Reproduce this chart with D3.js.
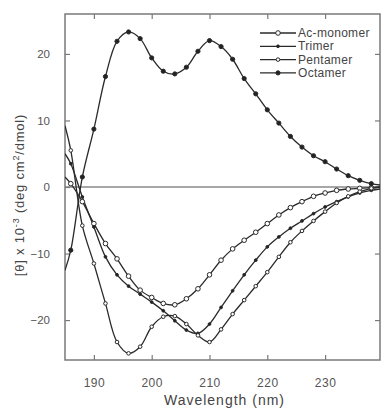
<!DOCTYPE html>
<html><head><meta charset="utf-8">
<script src="https://cdn.jsdelivr.net/npm/d3@7"></script>
<style>body{margin:0;background:#fff}text{font-family:"Liberation Sans",Arial,sans-serif}</style>
</head><body><svg id="c" width="382" height="410"></svg>
<script>
const wavelengths=[185,186,188,190,192,194,196,198,200,202,204,206,208,210,212,214,216,218,220,222,224,226,228,230,232,234,236,238,239.5];
const acMonomer=[1.5,0.5,-2.2,-5.5,-8.5,-10.8,-13.4,-15.5,-16.6,-17.5,-17.7,-16.8,-15.3,-13.2,-11.0,-9.3,-8.0,-6.8,-5.5,-4.2,-3.1,-2.2,-1.4,-0.9,-0.5,-0.3,-0.2,-0.1,0];
const trimer=[5.0,3.5,-1.5,-6.0,-10.5,-13.2,-14.9,-16.1,-17.3,-18.6,-20.1,-21.5,-22.0,-20.6,-18.1,-15.6,-13.2,-11.0,-9.0,-7.5,-6.2,-5.1,-4.0,-3.0,-2.2,-1.5,-0.9,-0.5,-0.3];
const pentamer=[9.2,5.5,-5.8,-11.5,-17.5,-23.3,-25.0,-24.0,-21.0,-19.5,-19.4,-20.6,-22.3,-23.3,-21.4,-19.1,-17.0,-14.9,-12.8,-10.5,-8.3,-6.6,-5.1,-3.7,-2.4,-1.4,-0.7,-0.2,0];
const octamer=[-12.5,-9.5,1.5,8.7,16.6,21.9,23.3,22.3,19.4,17.4,17.0,18.0,20.4,22.0,21.1,19.2,16.3,14.0,11.6,9.6,7.6,6.0,4.7,3.8,2.7,1.7,1.0,0.5,0.3];
const seriesNames=["Ac-monomer","Trimer","Pentamer","Octamer"];
const xTicks=[190,200,210,220,230];
const yTicks=[-20,-10,0,10,20];

const series=[
  {name:seriesNames[0],values:acMonomer,fill:"#fff",r:2.3},
  {name:seriesNames[1],values:trimer,fill:"#222",r:1.4},
  {name:seriesNames[2],values:pentamer,fill:"#fff",r:1.8},
  {name:seriesNames[3],values:octamer,fill:"#222",r:2.1}
];

const svg=d3.select("#c");
const L=65,R=380,T=14,B=360;
const x=d3.scaleLinear().domain([185,239.5]).range([L,R]);
const y=d3.scaleLinear().domain([-26,26]).range([B,T]);
const frame="#7a7a7a", ink="#2a2a2a", txt="#555";

svg.append("defs").append("clipPath").attr("id","clip").append("rect")
  .attr("x",L).attr("y",T).attr("width",R-L).attr("height",B-T);

// zero line
svg.append("line").attr("x1",L).attr("x2",R).attr("y1",y(0)).attr("y2",y(0))
  .attr("stroke","#8a8a8a").attr("stroke-width",1.5);

// axes with inward ticks
const ax=(g)=>{g.selectAll(".domain").remove();g.selectAll("line").attr("stroke",frame).attr("stroke-width",1.2);};
svg.append("g").attr("transform",`translate(0,${B})`)
  .call(d3.axisBottom(x).tickValues(xTicks).tickSizeInner(-5).tickSizeOuter(0).tickPadding(18))
  .call(ax).selectAll("text").attr("fill",txt).attr("font-size",12).attr("letter-spacing",0.5);
svg.append("g").attr("transform",`translate(0,${T})`)
  .call(d3.axisTop(x).tickValues(xTicks).tickSizeInner(-5).tickSizeOuter(0).tickFormat(""))
  .call(ax);
svg.append("g").attr("transform",`translate(${L},0)`)
  .call(d3.axisLeft(y).tickValues(yTicks).tickSizeInner(-5).tickSizeOuter(0).tickPadding(15))
  .call(ax).selectAll("text").attr("fill",txt).attr("font-size",11.5);
svg.append("g").attr("transform",`translate(${R},0)`)
  .call(d3.axisRight(y).tickValues(yTicks).tickSizeInner(-5).tickSizeOuter(0).tickFormat(""))
  .call(ax);

svg.append("rect").attr("x",L).attr("y",T).attr("width",R-L).attr("height",B-T)
  .attr("fill","none").attr("stroke",frame).attr("stroke-width",1.5);

const line=d3.line().x((d,i)=>x(wavelengths[i])).y(d=>y(d)).curve(d3.curveCatmullRom.alpha(0.5));
const plot=svg.append("g").attr("clip-path","url(#clip)");
series.forEach(s=>{
  plot.append("path").attr("d",line(s.values)).attr("fill","none")
    .attr("stroke",ink).attr("stroke-width",1.3);
});
series.forEach(s=>{
  plot.selectAll(null).data(s.values.map((v,i)=>({w:wavelengths[i],v})).filter((d,i)=>i>0&&i<wavelengths.length-1))
    .enter().append("circle").attr("cx",d=>x(d.w)).attr("cy",d=>y(d.v)).attr("r",s.r)
    .attr("fill",s.fill).attr("stroke",ink).attr("stroke-width",1);
});

// legend
const lg=svg.append("g");
series.forEach((s,i)=>{
  const yy=33+i*13.3;
  lg.append("line").attr("x1",260).attr("x2",296).attr("y1",yy).attr("y2",yy).attr("stroke",ink).attr("stroke-width",1.3);
  lg.append("circle").attr("cx",278).attr("cy",yy).attr("r",s.r).attr("fill",s.fill).attr("stroke",ink).attr("stroke-width",1);
  lg.append("text").attr("x",298).attr("y",yy+4).attr("font-size",12).attr("letter-spacing",0.3).attr("fill","#444").text(s.name);
});

// axis titles
svg.append("text").attr("x",(L+R)/2+2).attr("y",405).attr("text-anchor","middle")
  .attr("font-size",14).attr("letter-spacing",1).attr("fill","#444").text("Wavelength (nm)");
const yt=svg.append("text").attr("transform",`translate(24,${(T+B)/2+8}) rotate(-90)`)
  .attr("text-anchor","middle").attr("font-size",13).attr("letter-spacing",0.8).attr("fill","#444");
yt.append("tspan").text("[θ] x 10");
yt.append("tspan").attr("dy",-5).attr("font-size",9).text("-3");
yt.append("tspan").attr("dy",5).text(" (deg cm");
yt.append("tspan").attr("dy",-5).attr("font-size",9).text("2");
yt.append("tspan").attr("dy",5).text("/dmol)");
</script></body></html>
